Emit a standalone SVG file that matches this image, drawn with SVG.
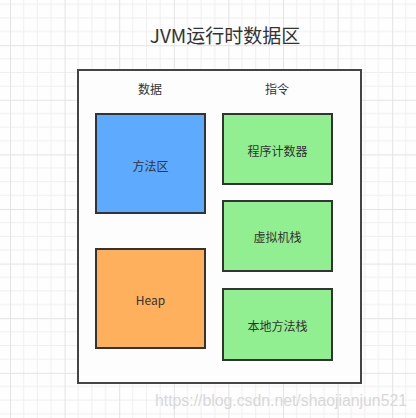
<svg xmlns="http://www.w3.org/2000/svg" width="416" height="418" viewBox="0 0 416 418">
<style>
.t{font-family:"Noto Sans CJK SC","Noto Sans",sans-serif;fill:#333;text-anchor:middle;dominant-baseline:central}
.lbl{font-size:12px}
.box{stroke:#333;stroke-width:2}
</style>
<defs>
<pattern id="grid" x="10" y="-9.4" width="54.6" height="54.6" patternUnits="userSpaceOnUse">
<path d="M13.65 0V54.6M27.3 0V54.6M40.95 0V54.6M0 13.65H54.6M0 27.3H54.6M0 40.95H54.6" stroke="#efefef" stroke-width="1" fill="none"/>
<path d="M0.5 0V54.6M0 0.5H54.6" stroke="#e3e3e3" stroke-width="1" fill="none"/>
</pattern>
</defs>
<rect width="416" height="418" fill="#fefefe"/>
<rect width="416" height="418" fill="url(#grid)"/>
<text class="t" x="225" y="34" font-size="19">JVM运行时数据区</text>
<g id="container">
<rect x="78" y="70" width="283" height="313" fill="#fdfdfd" stroke="#444" stroke-width="2"/>
<text class="t lbl" x="150" y="88">数据</text>
<text class="t lbl" x="277" y="88">指令</text>
</g>
<g id="method-area">
<rect class="box" x="96" y="114" width="109" height="99" fill="#5eaafe"/>
<text class="t lbl" x="150.5" y="165">方法区</text>
</g>
<g id="heap">
<rect class="box" x="96" y="249" width="109" height="99" fill="#ffb05c"/>
<text class="t lbl" x="150.5" y="299">Heap</text>
</g>
<g id="pc-register">
<rect class="box" x="223" y="114" width="109" height="70" fill="#91ee91"/>
<text class="t lbl" x="277.5" y="150">程序计数器</text>
</g>
<g id="vm-stack">
<rect class="box" x="223" y="201" width="109" height="70" fill="#91ee91"/>
<text class="t lbl" x="277.5" y="236">虚拟机栈</text>
</g>
<g id="native-stack">
<rect class="box" x="223" y="289" width="109" height="71" fill="#91ee91"/>
<text class="t lbl" x="277.5" y="325">本地方法栈</text>
</g>
<g id="connectors"/>
<text x="155" y="406" font-family="Liberation Sans,Arial,sans-serif" font-size="16" fill="#d8d8d8" textLength="252" lengthAdjust="spacingAndGlyphs">https://blog.csdn.net/shaojianjun521</text>
</svg>
